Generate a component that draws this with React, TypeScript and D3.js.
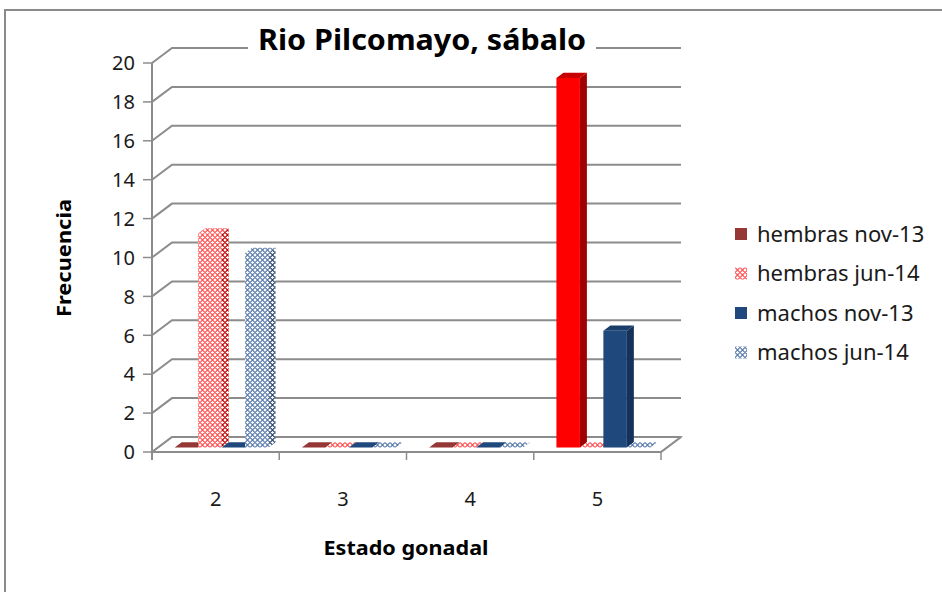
import * as d3 from "d3";

const categories = ["2", "3", "4", "5"];
const seriesNames = ["hembras nov-13", "hembras jun-14", "machos nov-13", "machos jun-14"];
const hembrasNov = [0, 0, 0, 19];
const hembrasJun = [11, 0, 0, 0];
const machosNov = [0, 0, 0, 6];
const machosJun = [10, 0, 0, 0];
const yTicks = [0, 2, 4, 6, 8, 10, 12, 14, 16, 18, 20];

const W = 942;
const H = 592;
const DX = 20;
const DY = -15;
const F0 = 0.3;
const F1 = 0.65;
const FONT = "'Noto Sans', 'Open Sans', sans-serif";

// front / side / top fills per series
const STYLES = [
  { front: "#953735", side: "#6b2321", top: "#7d2b29", legend: "#953735" },
  { front: "url(#pRed)", side: "url(#pRedDark)", top: "url(#pRed)", legend: "url(#pRed)" },
  { front: "#1f497d", side: "#15325a", top: "#1a3e6a", legend: "#1f497d" },
  { front: "url(#pBlue)", side: "url(#pBlueDark)", top: "url(#pBlue)", legend: "url(#pBlue)" },
];
// Excel point override: series 0 at category "5" is bright red
const OVERRIDE: Record<string, { front: string; side: string; top: string }> = {
  "0-5": { front: "#ff0000", side: "#a00000", top: "#c80000" },
};

function Pattern({ id, color }: { id: string; color: string }) {
  return (
    <pattern id={id} width={5} height={5} patternUnits="userSpaceOnUse">
      <rect width={5} height={5} fill="#fff" />
      <path d="M0,2.5 L2.5,0 L5,2.5 L2.5,5 Z" fill="none" stroke={color} strokeWidth={1.1} />
    </pattern>
  );
}

export default function App() {
  const values = [hembrasNov, hembrasJun, machosNov, machosJun];
  const y = d3.scaleLinear().domain([0, 20]).range([452, 63]);
  const x = d3.scaleBand().domain(categories).range([152, 661]);
  const inner = d3
    .scaleBand<number>()
    .domain(d3.range(seriesNames.length))
    .range([0, x.bandwidth()])
    .paddingOuter(0.71);

  const pt = (px: number, py: number, t: number) => `${px + t * DX},${py + t * DY}`;
  const grid = "#8c8c8c";
  const x0 = x.range()[0];
  const x1 = x.range()[1];

  const bars: JSX.Element[] = [];
  categories.forEach((c, ci) => {
    values.forEach((vals, si) => {
      const v = vals[ci];
      const bx0 = (x(c) ?? 0) + (inner(si) ?? 0);
      const bx1 = bx0 + inner.bandwidth();
      const yb = y(0);
      const yt = y(v);
      const st = OVERRIDE[`${si}-${c}`] ?? STYLES[si];
      const key = `${si}-${ci}`;
      const top = `${pt(bx0, yt, F0)} ${pt(bx1, yt, F0)} ${pt(bx1, yt, F1)} ${pt(bx0, yt, F1)}`;
      if (v > 0) {
        bars.push(
          <g key={key}>
            <rect x={bx0 + F0 * DX} y={yt + F0 * DY} width={bx1 - bx0} height={yb - yt} fill={st.front} />
            <polygon
              points={`${pt(bx1, yt, F0)} ${pt(bx1, yt, F1)} ${pt(bx1, yb, F1)} ${pt(bx1, yb, F0)}`}
              fill={st.side}
            />
            <polygon points={top} fill={st.top} />
          </g>
        );
      } else {
        bars.push(<polygon key={key} points={top} fill={st.front} />);
      }
    });
  });

  return (
    <svg
      width={W}
      height={H}
      style={{ position: "absolute", left: 0, top: 0, background: "#fff" }}
      fontFamily={FONT}
    >
      <defs>
        <Pattern id="pRed" color="#ff5050" />
        <Pattern id="pRedDark" color="#c00000" />
        <Pattern id="pBlue" color="#5a7bab" />
        <Pattern id="pBlueDark" color="#2a4670" />
      </defs>
      <rect x={0} y={0} width={W} height={H} fill="#fff" />
      {/* outer chart border */}
      <path d={`M5,${H + 5} V10 H${W + 5}`} fill="none" stroke="#8a8a8a" strokeWidth={2} />

      {/* floor */}
      <polygon
        points={`${pt(x0, y(0), 0)} ${pt(x1, y(0), 0)} ${pt(x1, y(0), 1)} ${pt(x0, y(0), 1)}`}
        fill="#fff"
        stroke={grid}
        strokeWidth={1.5}
      />

      {/* gridlines on back wall with side-wall diagonals */}
      {yTicks.map((t) => (
        <g key={t}>
          <path
            d={`M${x0},${y(t)} L${x0 + DX},${y(t) + DY} L${x1 + DX},${y(t) + DY}`}
            fill="none"
            stroke={grid}
            strokeWidth={2}
          />
          <line x1={x0 - 9} x2={x0} y1={y(t)} y2={y(t)} stroke={grid} strokeWidth={1.5} />
          <text x={135} y={y(t)} dy="0.36em" textAnchor="end" fontSize={20} fill="#1a1a1a">
            {t}
          </text>
        </g>
      ))}

      {/* vertical axis */}
      <line x1={x0} x2={x0} y1={y(20)} y2={y(0) + 8} stroke={grid} strokeWidth={2} />
      {/* category axis front edge and ticks */}
      <line x1={x0} x2={x1} y1={y(0)} y2={y(0)} stroke={grid} strokeWidth={2} />
      <line x1={x1} x2={x1 + DX} y1={y(0)} y2={y(0) + DY} stroke={grid} strokeWidth={2} />
      {categories.map((c) => (
        <line
          key={c}
          x1={(x(c) ?? 0) + x.bandwidth()}
          x2={(x(c) ?? 0) + x.bandwidth()}
          y1={y(0)}
          y2={y(0) + 8}
          stroke={grid}
          strokeWidth={1.5}
        />
      ))}
      {categories.map((c) => (
        <text
          key={c}
          x={(x(c) ?? 0) + x.bandwidth() / 2}
          y={499}
          dy="0.36em"
          textAnchor="middle"
          fontSize={20}
          fill="#1a1a1a"
        >
          {c}
        </text>
      ))}

      {bars}

      {/* title with white box over gridline */}
      <rect x={248} y={22} width={348} height={38} fill="#fff" />
      <text x={422} y={50} textAnchor="middle" fontSize={29} fontWeight="bold" textLength={328} lengthAdjust="spacingAndGlyphs">
        Rio Pilcomayo, sábalo
      </text>

      {/* axis titles */}
      <text
        transform="translate(71,258) rotate(-90)"
        textAnchor="middle"
        fontSize={20}
        fontWeight="bold"
        textLength={118}
        lengthAdjust="spacingAndGlyphs"
      >
        Frecuencia
      </text>
      <text x={406} y={555} textAnchor="middle" fontSize={20} fontWeight="bold" textLength={165} lengthAdjust="spacingAndGlyphs">
        Estado gonadal
      </text>

      {/* legend */}
      {seriesNames.map((s, i) => {
        const ly = 234 + i * 39.5;
        return (
          <g key={s}>
            <rect x={735} y={ly - 6} width={12} height={12} fill={STYLES[i].legend} />
            <text x={757} y={ly} dy="0.36em" fontSize={22} fill="#1a1a1a">
              {s}
            </text>
          </g>
        );
      })}
    </svg>
  );
}
